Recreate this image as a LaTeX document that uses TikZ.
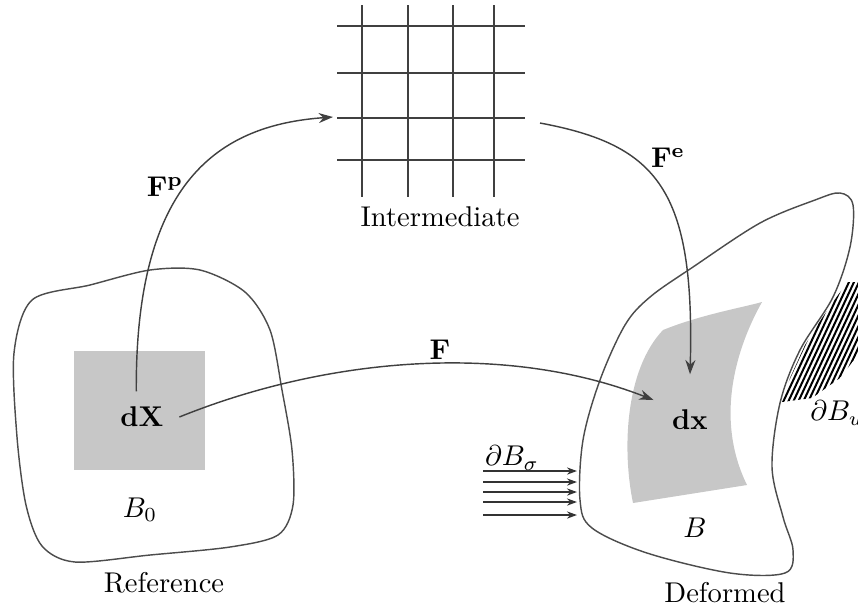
\documentclass[tikz,border=0pt]{standalone}
\usetikzlibrary{arrows.meta}

\begin{document}
\begin{tikzpicture}[x=0.35pt, y=-0.35pt, >={Stealth[length=5pt,width=3.5pt]}, font=\normalsize]
  \tikzset{
    body/.style={draw=black!70, line width=0.5pt},
    patch/.style={fill=black!22},
    gridline/.style={draw=black!75, line width=0.55pt},
    map/.style={->, draw=black!75, line width=0.5pt},
    traction/.style={-{Stealth[length=3.5pt,width=2.5pt]}, draw=black!80, line width=0.5pt},
    hatch/.style={draw=black, line width=0.7pt}
  }
  \useasboundingbox (0,0) rectangle (858,610);

  % reference configuration
  \fill[patch] (74,351) rectangle (205,470);
  \draw[body] plot[smooth cycle, tension=0.5] coordinates {
    (32,300) (90,285) (150,270) (200,270) (245,292) (270,330) (282,390)
    (292,450) (293,505) (278,535) (230,547) (150,555) (75,562) (42,546)
    (26,505) (17,437) (14,353)};
  \node (dX) at (142,417) {$\mathbf{dX}$};
  \node (B0) at (140,510) {$B_0$};
  \node (ref) at (164,583) {Reference};

  % intermediate configuration
  \foreach \x in {362,408,453,494}
    \draw[gridline] (\x,5) -- (\x,197);
  \foreach \y in {26,73,118,160}
    \draw[gridline] (337,\y) -- (525,\y);
  \coordinate (inL) at (333,117);
  \coordinate (inR) at (540,123);
  \node (inter) at (440,217) {Intermediate};

  % deformed configuration
  \fill[patch] (663,330) .. controls (700,315) and (740,308) .. (762,302)
    .. controls (735,350) and (715,420) .. (747,485)
    -- (633,503) .. controls (622,450) and (625,370) .. (663,330) -- cycle;
  \draw[body] plot[smooth cycle, tension=0.55] coordinates {
    (580,500) (583,440) (600,380) (625,325) (650,297) (693,267) (760,223)
    (815,200) (840,193) (853,205) (850,247) (833,297) (800,350) (780,403)
    (772,467) (783,517) (793,550) (785,573) (730,573) (647,553) (592,528)};
  \begin{scope}
    \clip (782,402) -- (790,378) -- (805,345) -- (822,318) -- (838,295)
      -- (848,282) -- (860,282) -- (860,352) -- (840,378) -- (812,398) -- cycle;
    \foreach \i in {0,...,26}
      \draw[hatch] (740+\i*5,430) -- ++(-65:180);
  \end{scope}
  \foreach \y in {471,482,492,502,515}
    \draw[traction] (483,\y) -- (577,\y);
  \node (dx) at (690,420) {$\mathbf{dx}$};
  \node (B) at (695,528) {$B$};
  \node (def) at (725,593) {Deformed};
  \node (Bs) at (512,458) {$\partial B_\sigma$};
  \node (Bu) at (837,413) {$\partial B_u$};

  % maps
  \draw[map] ([xshift=-2pt,yshift=2pt]dX.north)
    .. controls (135,180) and (220,125) .. (inL);
  \draw[map] (inR) .. controls (658,145) and (695,190) .. ([yshift=9pt]dx.north);
  \draw[map] ([xshift=2pt]dX.east) .. controls (320,360) and (500,340)
    .. ([xshift=-3pt]dx.north west);
  \node (Fp) at (165,187) {$\mathbf{F}^{\mathbf{p}}$};
  \node (Fe) at (668,158) {$\mathbf{F}^{\mathbf{e}}$};
  \node (F) at (440,350) {$\mathbf{F}$};
\end{tikzpicture}
\end{document}
